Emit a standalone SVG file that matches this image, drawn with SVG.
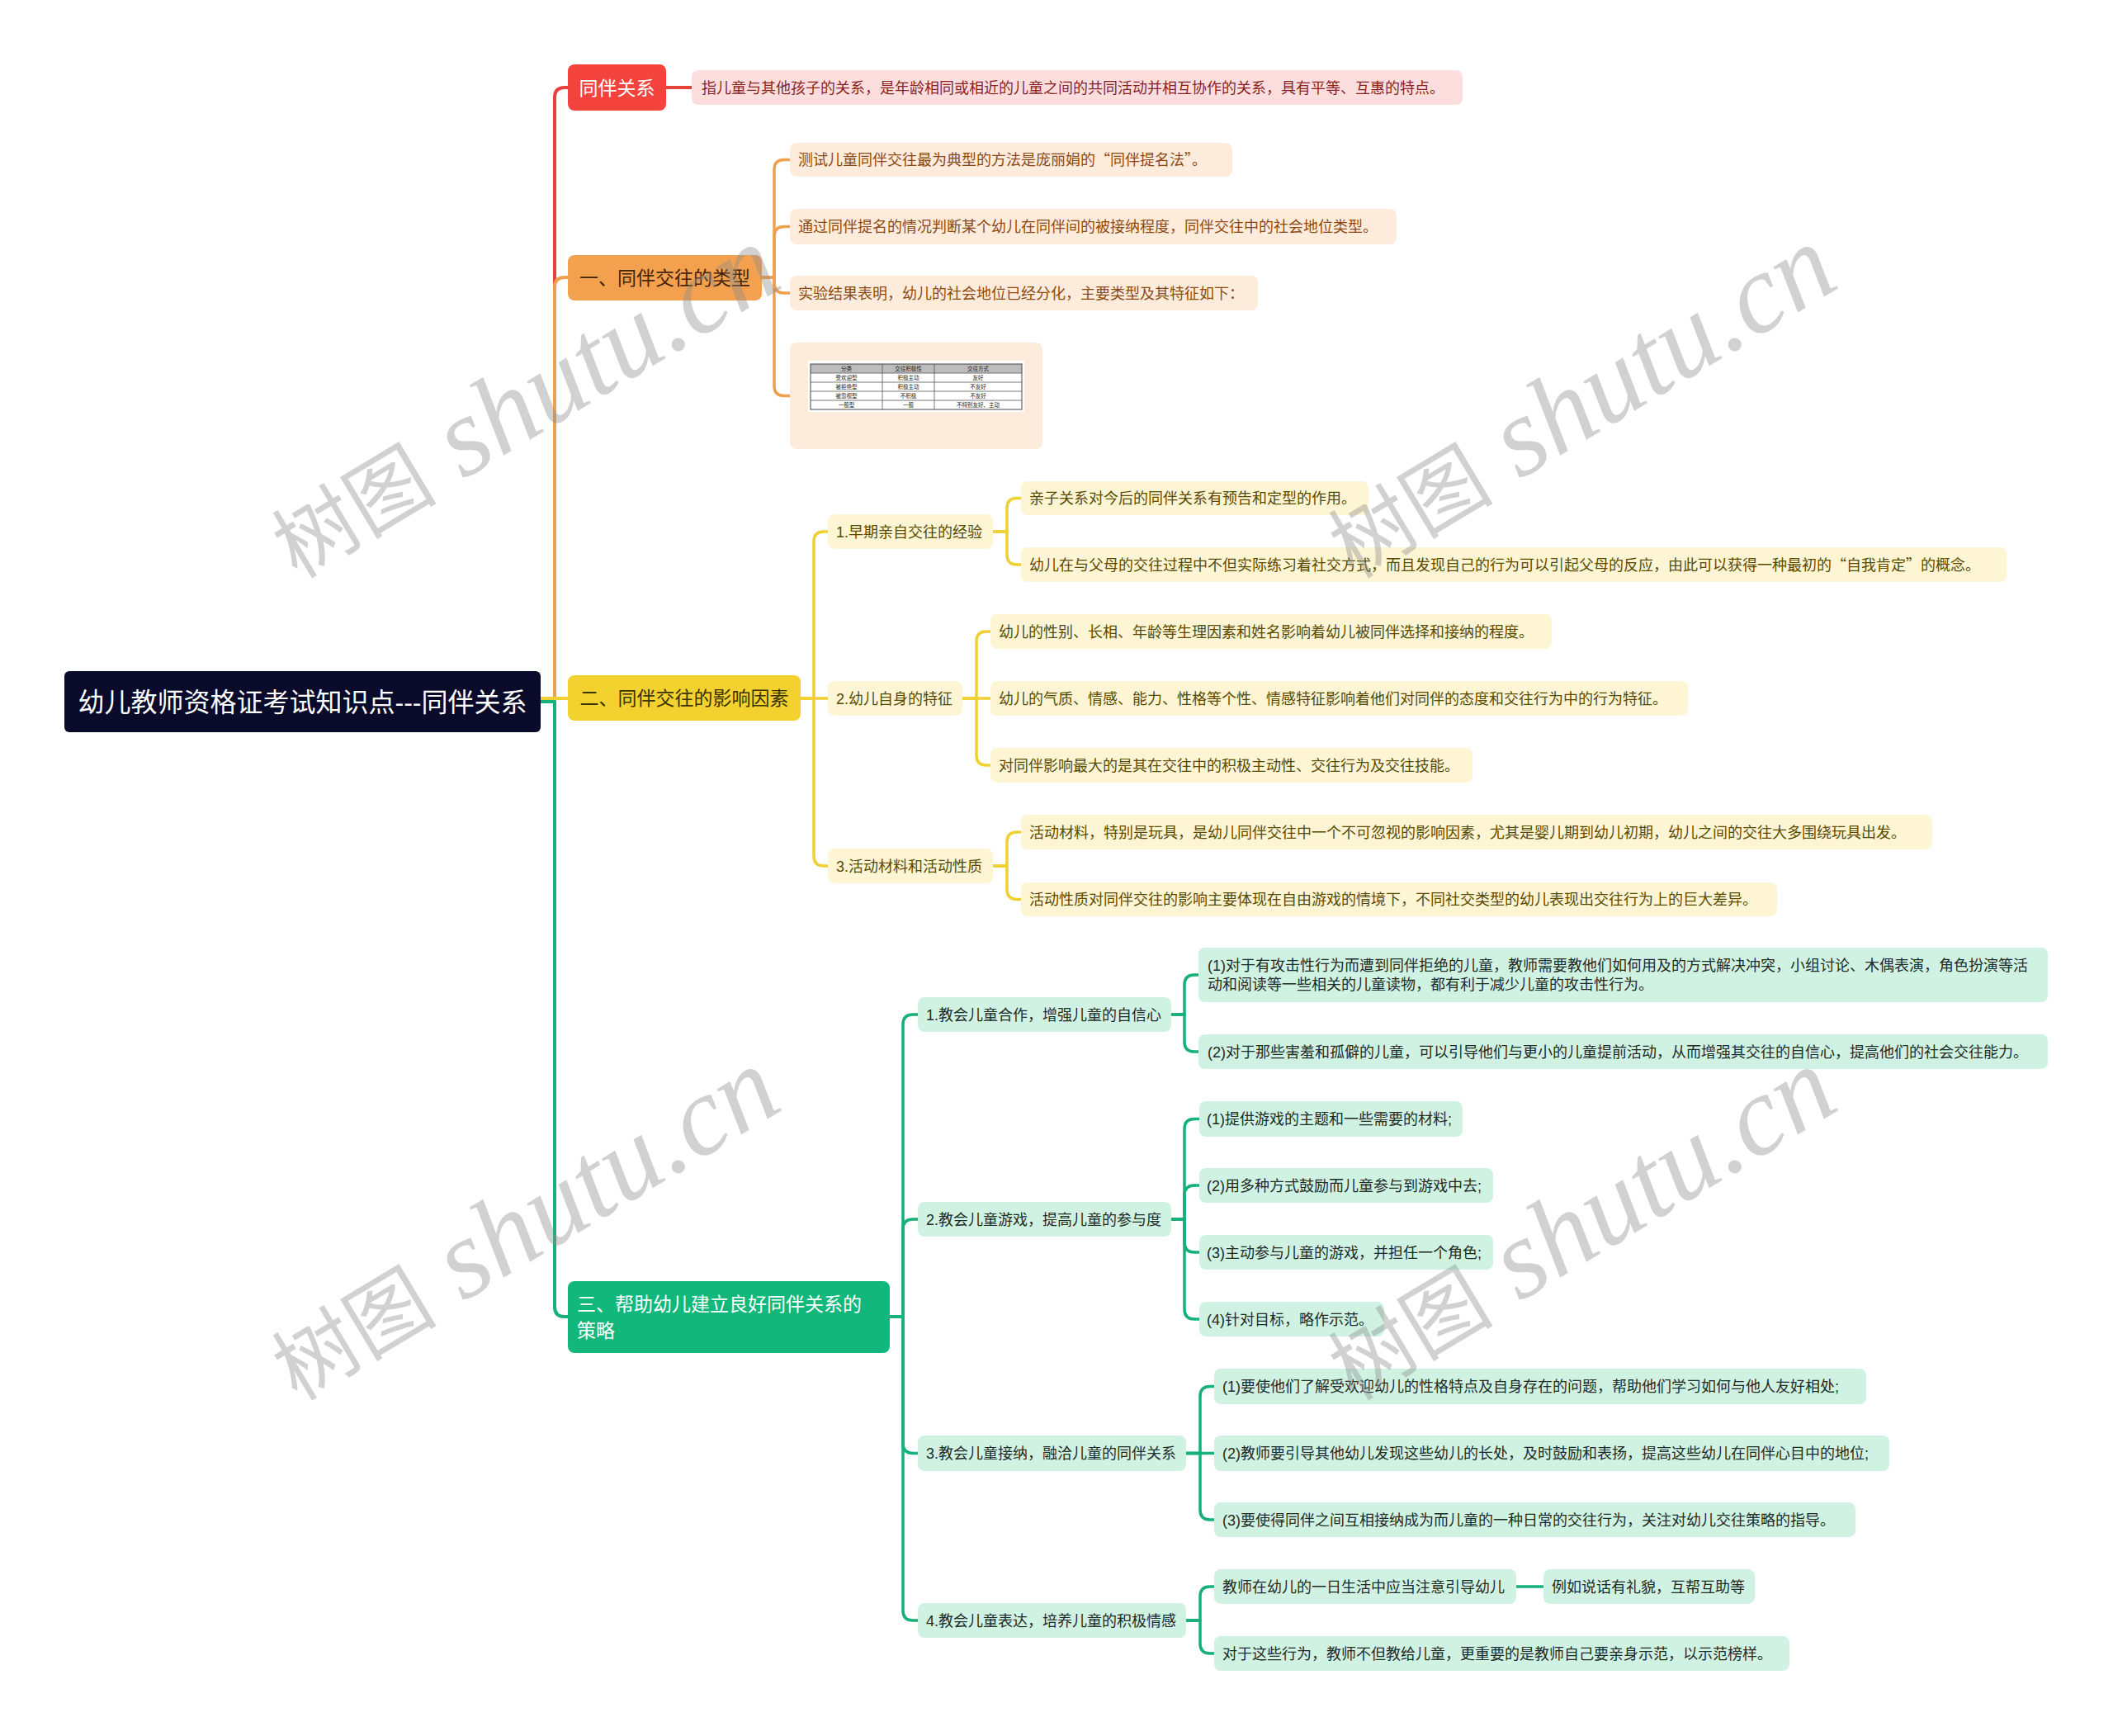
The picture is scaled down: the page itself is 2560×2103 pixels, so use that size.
<svg xmlns="http://www.w3.org/2000/svg" width="2560" height="2103" viewBox="0 0 2560 2103">
<defs>
<style>
text{font-family:"Liberation Sans","Noto Sans CJK SC",sans-serif;}
.q{font-family:"Noto Sans CJK SC",sans-serif;}
.t18{font-size:18px;}
.t23{font-size:23px;}
.root{fill:#0A0A2A;}
.red{fill:#F4433D;}
.redl{fill:#FDDEDE;}
.org{fill:#F3A04F;}
.orgl{fill:#FDEBDC;}
.yel{fill:#F3D22F;}
.yell{fill:#FDF5D4;}
.grn{fill:#12B87B;}
.grnl{fill:#CFF2E3;}
.tw{fill:#FFFFFF;}
.tred{fill:#8A1F1F;}
.torg{fill:#8C4A12;}
.torgd{fill:#452406;}
.tyel{fill:#5A4A00;}
.tyeld{fill:#3B3300;}
.tgrn{fill:#1E2B26;}
.c{fill:none;stroke-linecap:round;stroke-linejoin:round;}
.cr{stroke:#E6423C;}
.co{stroke:#EFA04E;}
.cy{stroke:#EFD133;}
.cg{stroke:#16B07A;}
.w4{stroke-width:4;}
.w3{stroke-width:3.5;}
.wm{font-family:"Liberation Serif","Noto Sans CJK SC",serif;fill:#8c8c8c;fill-opacity:0.4;}
.tb{font-size:6.5px;fill:#222;text-anchor:middle;}
</style>
</defs>
<rect x="0" y="0" width="2560" height="2103" fill="#FFFFFF"/>

<g id="connectors">
<path class="c cr w4" d="M655 850 H672 V118 Q672 106 684 106 H688"/>
<path class="c co w4" d="M655 850 H672 V348 Q672 336 684 336 H688"/>
<path class="c cg w4" d="M655 850 H672 V1583 Q672 1595 684 1595 H688"/>
<path class="c cy w4" d="M655 846 H688"/>
<path class="c cr w4" d="M807 106 H838"/>
<path class="c co w3" d="M923 336 H938 V205.5 Q938 193.5 950 193.5 H957"/>
<path class="c co w3" d="M923 336 H938 V286.5 Q938 274.5 950 274.5 H957"/>
<path class="c co w3" d="M923 336 H938 V343 Q938 355 950 355 H957"/>
<path class="c co w3" d="M923 336 H938 V467.5 Q938 479.5 950 479.5 H957"/>
<path class="c cy w3" d="M970 846 H986 V656 Q986 644 998 644 H1003"/>
<path class="c cy w3" d="M970 846 H1003"/>
<path class="c cy w3" d="M970 846 H986 V1037 Q986 1049 998 1049 H1003"/>
<path class="c cy w3" d="M1203 644 H1220 V615.5 Q1220 603.5 1232 603.5 H1237"/>
<path class="c cy w3" d="M1203 644 H1220 V672 Q1220 684 1232 684 H1237"/>
<path class="c cy w3" d="M1166 846 H1183 V777 Q1183 765 1195 765 H1200"/>
<path class="c cy w3" d="M1166 846 H1200"/>
<path class="c cy w3" d="M1166 846 H1183 V915 Q1183 927 1195 927 H1200"/>
<path class="c cy w3" d="M1203 1049 H1220 V1020 Q1220 1008 1232 1008 H1237"/>
<path class="c cy w3" d="M1203 1049 H1220 V1077.5 Q1220 1089.5 1232 1089.5 H1237"/>
<path class="c cg w3" d="M1078 1595 H1094 V1241 Q1094 1229 1106 1229 H1112"/>
<path class="c cg w3" d="M1078 1595 H1094 V1489 Q1094 1477 1106 1477 H1112"/>
<path class="c cg w3" d="M1078 1595 H1094 V1748.5 Q1094 1760.5 1106 1760.5 H1112"/>
<path class="c cg w3" d="M1078 1595 H1094 V1951 Q1094 1963 1106 1963 H1112"/>
<path class="c cg w3" d="M1419 1229 H1435 V1193 Q1435 1181 1447 1181 H1452"/>
<path class="c cg w3" d="M1419 1229 H1435 V1262 Q1435 1274 1447 1274 H1452"/>
<path class="c cg w3" d="M1419 1477 H1435 V1367.5 Q1435 1355.5 1447 1355.5 H1453"/>
<path class="c cg w3" d="M1419 1477 H1435 V1448 Q1435 1436 1447 1436 H1453"/>
<path class="c cg w3" d="M1419 1477 H1435 V1505 Q1435 1517 1447 1517 H1453"/>
<path class="c cg w3" d="M1419 1477 H1435 V1586 Q1435 1598 1447 1598 H1453"/>
<path class="c cg w3" d="M1437 1760.5 H1454 V1691.5 Q1454 1679.5 1466 1679.5 H1471"/>
<path class="c cg w3" d="M1437 1760.5 H1471"/>
<path class="c cg w3" d="M1437 1760.5 H1454 V1829 Q1454 1841 1466 1841 H1471"/>
<path class="c cg w3" d="M1437 1963 H1454 V1934 Q1454 1922 1466 1922 H1471"/>
<path class="c cg w3" d="M1437 1963 H1454 V1991 Q1454 2003 1466 2003 H1471"/>
<path class="c cg w3" d="M1837 1922 H1870"/>
</g>

<g id="n-root"><rect class="root" x="78" y="813" width="577" height="74" rx="6"/><text class="tw" x="366.5" y="862" font-size="32" text-anchor="middle">幼儿教师资格证考试知识点---同伴关系</text></g>

<g id="n-red"><rect class="red" x="688" y="78" width="119" height="56" rx="8"/><text class="tw t23" x="747.5" y="114.5" text-anchor="middle">同伴关系</text></g>
<g id="n-red-1"><rect class="redl" x="838" y="85" width="934" height="42" rx="8"/><text class="tred t18" x="850" y="112.5">指儿童与其他孩子的关系，是年龄相同或相近的儿童之间的共同活动并相互协作的关系，具有平等、互惠的特点。</text></g>

<g id="n-org"><rect class="org" x="688" y="309" width="235" height="55" rx="8"/><text class="torgd t23" x="805.5" y="345" text-anchor="middle">一、同伴交往的类型</text></g>
<g id="n-org-1"><rect class="orgl" x="957" y="173" width="536" height="41" rx="8"/><text class="torg t18" x="967" y="200">测试儿童同伴交往最为典型的方法是庞丽娟的<tspan class="q">“</tspan>同伴提名法<tspan class="q">”</tspan>。</text></g>
<g id="n-org-2"><rect class="orgl" x="957" y="253" width="735" height="43" rx="8"/><text class="torg t18" x="967" y="281">通过同伴提名的情况判断某个幼儿在同伴间的被接纳程度，同伴交往中的社会地位类型。</text></g>
<g id="n-org-3"><rect class="orgl" x="957" y="334" width="567" height="42" rx="8"/><text class="torg t18" x="967" y="361.5">实验结果表明，幼儿的社会地位已经分化，主要类型及其特征如下：</text></g>
<g id="n-org-4">
<rect class="orgl" x="957" y="415" width="306" height="129" rx="8"/>
<rect x="979" y="437" width="262" height="62" fill="#FFFFFF"/>
<rect x="982" y="441" width="256" height="11" fill="#BDBDBD"/>
<rect x="982" y="441" width="256" height="55" fill="none" stroke="#444" stroke-width="1"/>
<path d="M982 452 H1238 M982 463 H1238 M982 474 H1238 M982 485 H1238 M1069 441 V496 M1132 441 V496" stroke="#555" stroke-width="0.8" fill="none"/>
<text class="tb" x="1025.5" y="449">分类</text><text class="tb" x="1100.5" y="449">交往积极性</text><text class="tb" x="1185" y="449">交往方式</text>
<text class="tb" x="1025.5" y="460">受欢迎型</text><text class="tb" x="1100.5" y="460">积极主动</text><text class="tb" x="1185" y="460">友好</text>
<text class="tb" x="1025.5" y="471">被拒绝型</text><text class="tb" x="1100.5" y="471">积极主动</text><text class="tb" x="1185" y="471">不友好</text>
<text class="tb" x="1025.5" y="482">被忽视型</text><text class="tb" x="1100.5" y="482">不积极</text><text class="tb" x="1185" y="482">不友好</text>
<text class="tb" x="1025.5" y="493">一般型</text><text class="tb" x="1100.5" y="493">一般</text><text class="tb" x="1185" y="493">不特别友好、主动</text>
</g>

<g id="n-yel"><rect class="yel" x="688" y="818" width="282" height="55" rx="8"/><text class="tyeld t23" x="829" y="854" text-anchor="middle">二、同伴交往的影响因素</text></g>
<g id="n-yel-1"><rect class="yell" x="1003" y="623" width="200" height="42" rx="8"/><text class="tyel t18" x="1013" y="650.5">1.早期亲自交往的经验</text></g>
<g id="n-yel-1a"><rect class="yell" x="1237" y="583" width="421" height="41" rx="8"/><text class="tyel t18" x="1247" y="610">亲子关系对今后的同伴关系有预告和定型的作用。</text></g>
<g id="n-yel-1b"><rect class="yell" x="1237" y="663" width="1194" height="42" rx="8"/><text class="tyel t18" x="1247" y="690.5">幼儿在与父母的交往过程中不但实际练习着社交方式，而且发现自己的行为可以引起父母的反应，由此可以获得一种最初的<tspan class="q">“</tspan>自我肯定<tspan class="q">”</tspan>的概念。</text></g>
<g id="n-yel-2"><rect class="yell" x="1003" y="825" width="163" height="42" rx="8"/><text class="tyel t18" x="1013" y="852.5">2.幼儿自身的特征</text></g>
<g id="n-yel-2a"><rect class="yell" x="1200" y="744" width="680" height="42" rx="8"/><text class="tyel t18" x="1210" y="771.5">幼儿的性别、长相、年龄等生理因素和姓名影响着幼儿被同伴选择和接纳的程度。</text></g>
<g id="n-yel-2b"><rect class="yell" x="1200" y="825" width="845" height="42" rx="8"/><text class="tyel t18" x="1210" y="852.5">幼儿的气质、情感、能力、性格等个性、情感特征影响着他们对同伴的态度和交往行为中的行为特征。</text></g>
<g id="n-yel-2c"><rect class="yell" x="1200" y="906" width="584" height="42" rx="8"/><text class="tyel t18" x="1210" y="933.5">对同伴影响最大的是其在交往中的积极主动性、交往行为及交往技能。</text></g>
<g id="n-yel-3"><rect class="yell" x="1003" y="1028" width="200" height="42" rx="8"/><text class="tyel t18" x="1013" y="1055.5">3.活动材料和活动性质</text></g>
<g id="n-yel-3a"><rect class="yell" x="1237" y="987" width="1104" height="42" rx="8"/><text class="tyel t18" x="1247" y="1014.5">活动材料，特别是玩具，是幼儿同伴交往中一个不可忽视的影响因素，尤其是婴儿期到幼儿初期，幼儿之间的交往大多围绕玩具出发。</text></g>
<g id="n-yel-3b"><rect class="yell" x="1237" y="1069" width="916" height="41" rx="8"/><text class="tyel t18" x="1247" y="1096">活动性质对同伴交往的影响主要体现在自由游戏的情境下，不同社交类型的幼儿表现出交往行为上的巨大差异。</text></g>

<g id="n-grn"><rect class="grn" x="688" y="1552" width="390" height="87" rx="8"/><text class="tw t23" x="699" y="1588">三、帮助幼儿建立良好同伴关系的</text><text class="tw t23" x="699" y="1620">策略</text></g>
<g id="n-grn-1"><rect class="grnl" x="1112" y="1208" width="307" height="42" rx="8"/><text class="tgrn t18" x="1122" y="1235.5">1.教会儿童合作，增强儿童的自信心</text></g>
<g id="n-grn-1a"><rect class="grnl" x="1452" y="1148" width="1029" height="66" rx="8"/><text class="tgrn t18" x="1463" y="1176">(1)对于有攻击性行为而遭到同伴拒绝的儿童，教师需要教他们如何用及的方式解决冲突，小组讨论、木偶表演，角色扮演等活</text><text class="tgrn t18" x="1463" y="1199">动和阅读等一些相关的儿童读物，都有利于减少儿童的攻击性行为。</text></g>
<g id="n-grn-1b"><rect class="grnl" x="1452" y="1253" width="1029" height="42" rx="8"/><text class="tgrn t18" x="1463" y="1280.5">(2)对于那些害羞和孤僻的儿童，可以引导他们与更小的儿童提前活动，从而增强其交往的自信心，提高他们的社会交往能力。</text></g>
<g id="n-grn-2"><rect class="grnl" x="1112" y="1456" width="307" height="42" rx="8"/><text class="tgrn t18" x="1122" y="1483.5">2.教会儿童游戏，提高儿童的参与度</text></g>
<g id="n-grn-2a"><rect class="grnl" x="1453" y="1334" width="319" height="43" rx="8"/><text class="tgrn t18" x="1462" y="1362">(1)提供游戏的主题和一些需要的材料;</text></g>
<g id="n-grn-2b"><rect class="grnl" x="1453" y="1415" width="356" height="42" rx="8"/><text class="tgrn t18" x="1462" y="1442.5">(2)用多种方式鼓励而儿童参与到游戏中去;</text></g>
<g id="n-grn-2c"><rect class="grnl" x="1453" y="1496" width="356" height="42" rx="8"/><text class="tgrn t18" x="1462" y="1523.5">(3)主动参与儿童的游戏，并担任一个角色;</text></g>
<g id="n-grn-2d"><rect class="grnl" x="1453" y="1577" width="224" height="42" rx="8"/><text class="tgrn t18" x="1462" y="1604.5">(4)针对目标，略作示范。</text></g>
<g id="n-grn-3"><rect class="grnl" x="1112" y="1739" width="325" height="43" rx="8"/><text class="tgrn t18" x="1122" y="1767">3.教会儿童接纳，融洽儿童的同伴关系</text></g>
<g id="n-grn-3a"><rect class="grnl" x="1471" y="1658" width="790" height="43" rx="8"/><text class="tgrn t18" x="1481" y="1686">(1)要使他们了解受欢迎幼儿的性格特点及自身存在的问题，帮助他们学习如何与他人友好相处;</text></g>
<g id="n-grn-3b"><rect class="grnl" x="1471" y="1739" width="818" height="43" rx="8"/><text class="tgrn t18" x="1481" y="1767">(2)教师要引导其他幼儿发现这些幼儿的长处，及时鼓励和表扬，提高这些幼儿在同伴心目中的地位;</text></g>
<g id="n-grn-3c"><rect class="grnl" x="1471" y="1820" width="777" height="42" rx="8"/><text class="tgrn t18" x="1481" y="1847.5">(3)要使得同伴之间互相接纳成为而儿童的一种日常的交往行为，关注对幼儿交往策略的指导。</text></g>
<g id="n-grn-4"><rect class="grnl" x="1112" y="1942" width="325" height="42" rx="8"/><text class="tgrn t18" x="1122" y="1969.5">4.教会儿童表达，培养儿童的积极情感</text></g>
<g id="n-grn-4a"><rect class="grnl" x="1471" y="1901" width="366" height="42" rx="8"/><text class="tgrn t18" x="1481" y="1928.5">教师在幼儿的一日生活中应当注意引导幼儿</text></g>
<g id="n-grn-4a1"><rect class="grnl" x="1870" y="1901" width="256" height="42" rx="8"/><text class="tgrn t18" x="1880" y="1928.5">例如说话有礼貌，互帮互助等</text></g>
<g id="n-grn-4b"><rect class="grnl" x="1471" y="1982" width="697" height="42" rx="8"/><text class="tgrn t18" x="1481" y="2009.5">对于这些行为，教师不但教给儿童，更重要的是教师自己要亲身示范，以示范榜样。</text></g>

<g id="watermarks">
<text class="wm" transform="translate(360,702) rotate(-31)"><tspan font-size="100">树图</tspan><tspan font-size="136" font-style="italic"> shutu.cn</tspan></text>
<text class="wm" transform="translate(1640,702) rotate(-31)"><tspan font-size="100">树图</tspan><tspan font-size="136" font-style="italic"> shutu.cn</tspan></text>
<text class="wm" transform="translate(360,1698) rotate(-31)"><tspan font-size="100">树图</tspan><tspan font-size="136" font-style="italic"> shutu.cn</tspan></text>
<text class="wm" transform="translate(1640,1698) rotate(-31)"><tspan font-size="100">树图</tspan><tspan font-size="136" font-style="italic"> shutu.cn</tspan></text>
</g>
</svg>
